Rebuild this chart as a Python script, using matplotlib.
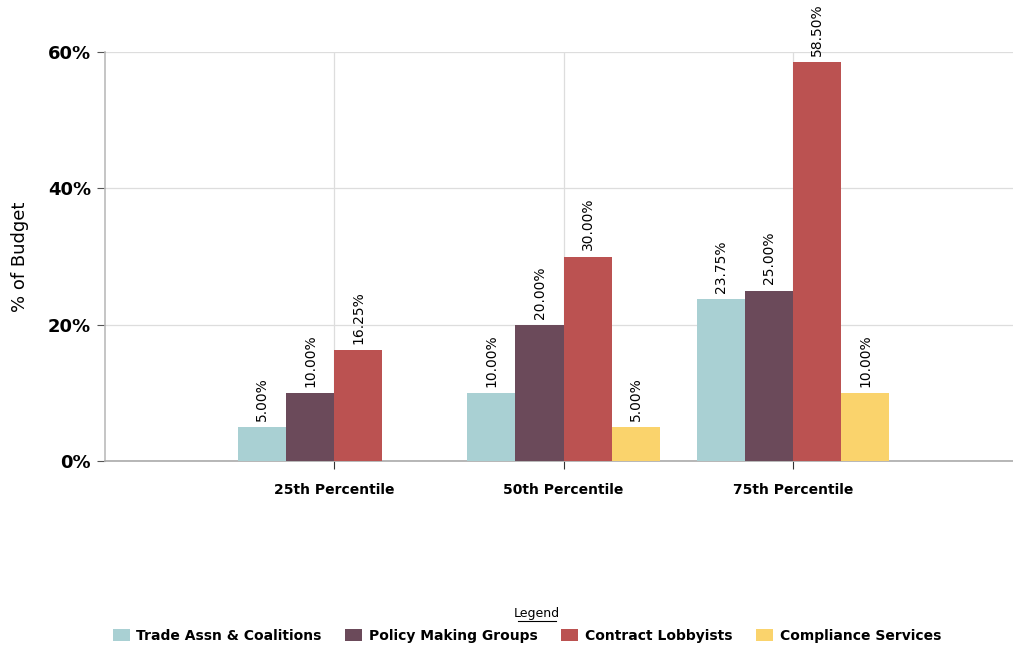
import numpy as np
import matplotlib.pyplot as plt
from matplotlib.lines import Line2D

categories = ['25th Percentile', '50th Percentile', '75th Percentile']
series = ['Trade Assn & Coalitions', 'Policy Making Groups', 'Contract Lobbyists', 'Compliance Services']
values = [
    [5.00, 10.00, 23.75],
    [10.00, 20.00, 25.00],
    [16.25, 30.00, 58.50],
    [0.0, 5.00, 10.00],
]
colors = ['#A9D0D3', '#6B4A5A', '#BB5251', '#FAD36C']

fig = plt.figure(figsize=(10.13, 6.5), dpi=100)
ax = fig.add_axes([105 / 1013, 1 - 461 / 650, 1 - 105 / 1013, (461 - 52) / 650])

x = np.arange(len(categories))
w = 0.21
for i, (name, vals) in enumerate(zip(series, values)):
    pos = x + (i - 1.5) * w
    ax.bar(pos, vals, w, color=colors[i], label=name, zorder=3)
    for p, v in zip(pos, vals):
        if v > 0:
            ax.text(p, v + 0.9, f'{v:.2f}%', rotation=90, ha='center', va='bottom',
                    fontsize=10, color='black', zorder=4)

ax.set_xlim(-1, 2.96)
ax.set_ylim(0, 60)
ax.set_yticks([0, 20, 40, 60])
ax.set_yticklabels(['0%', '20%', '40%', '60%'], fontsize=13, fontweight='bold')
ax.set_xticks(x)
ax.set_xticklabels(categories, fontsize=10, fontweight='bold')
ax.tick_params(axis='x', length=6, color='#333333', pad=10)
ax.tick_params(axis='y', length=6, color='#555555', pad=4)
ax.grid(True, color='#dddddd', linewidth=0.9, zorder=0)
for s in ['top', 'right']:
    ax.spines[s].set_visible(False)
ax.spines['left'].set_color('#bbbbbb')
ax.spines['bottom'].set_color('#aaaaaa')
ax.spines['left'].set_linewidth(1.2)
ax.spines['bottom'].set_linewidth(1.2)
ax.set_ylabel('% of Budget', fontsize=13, labelpad=14)

fig.text(537 / 1013, 1 - 614 / 650, 'Legend', ha='center', va='center', fontsize=9)
fig.add_artist(Line2D([518 / 1013, 556 / 1013], [1 - 621 / 650, 1 - 621 / 650],
                      color='black', linewidth=0.8))
fig.legend(loc='center', bbox_to_anchor=(527 / 1013, 1 - 636 / 650), ncol=4,
           frameon=False, handlelength=1.2, handleheight=1.0,
           columnspacing=1.7, handletextpad=0.5,
           prop={'weight': 'bold', 'size': 10})

fig.savefig('out.png', dpi=100)
